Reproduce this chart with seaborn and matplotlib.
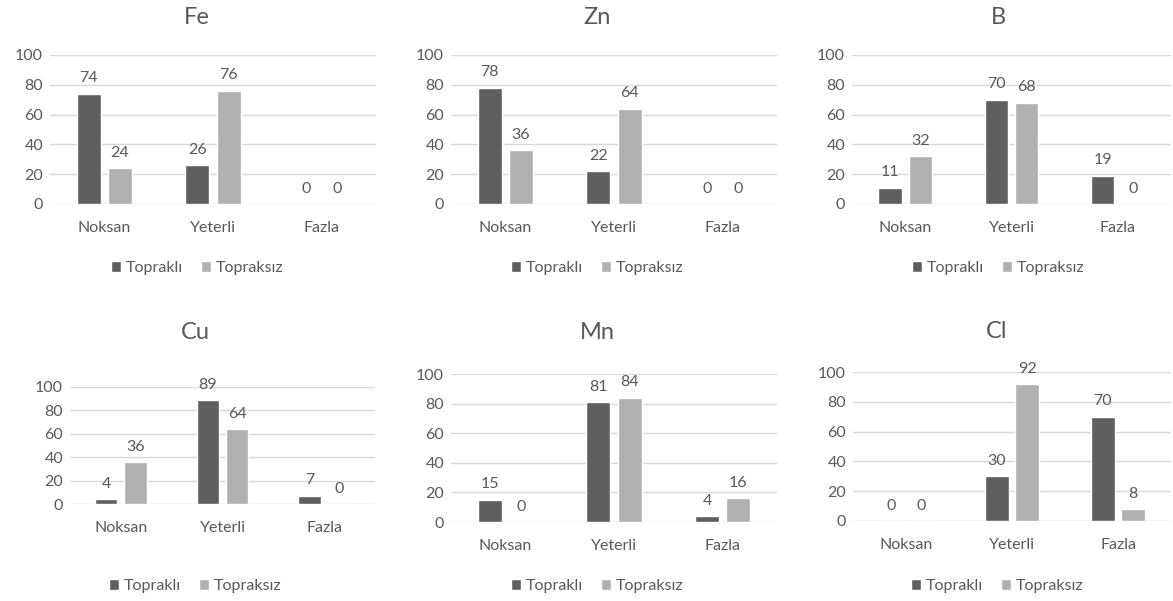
import matplotlib
matplotlib.use("Agg")
import matplotlib.pyplot as plt
import seaborn as sns
import pandas as pd

# categories and series
categories = ["Noksan", "Yeterli", "Fazla"]
series_names = ["Topraklı", "Topraksız"]

fe_toprakli = [74, 26, 0]
fe_topraksiz = [24, 76, 0]
zn_toprakli = [78, 22, 0]
zn_topraksiz = [36, 64, 0]
b_toprakli = [11, 70, 19]
b_topraksiz = [32, 68, 0]
cu_toprakli = [4, 89, 7]
cu_topraksiz = [36, 64, 0]
mn_toprakli = [15, 81, 4]
mn_topraksiz = [0, 84, 16]
cl_toprakli = [0, 30, 70]
cl_topraksiz = [0, 92, 8]

y_ticks = [0, 20, 40, 60, 80, 100]

W, H = 1173, 601
TEXT = "#595959"
GRID = "#d9d9d9"
FS = 11.5
palette = {"Topraklı": "#5f5f5f", "Topraksız": "#b0b0b0"}

sns.set_theme(style="white")
plt.rcParams["font.family"] = ["Lato", "DejaVu Sans"]

# (title, toprakli, topraksiz, axes px box [x0, x1, y100, y0], title px (x, y), legend y px)
panels = [
    ("Fe", fe_toprakli, fe_topraksiz, (50, 376, 55, 204), (197, 17), 268),
    ("Zn", zn_toprakli, zn_topraksiz, (451, 777, 55, 204), (597, 17), 268),
    ("B", b_toprakli, b_topraksiz, (852, 1171, 55, 204), (998, 17), 268),
    ("Cu", cu_toprakli, cu_topraksiz, (70, 375, 387, 504), (195, 333), 586),
    ("Mn", mn_toprakli, mn_topraksiz, (451, 777, 374, 522), (597, 333), 586),
    ("Cl", cl_toprakli, cl_topraksiz, (853, 1171, 372, 521), (997, 332), 586),
]

fig = plt.figure(figsize=(W / 100, H / 100), dpi=100)

for title, toprakli, topraksiz, box, tpos, leg_y in panels:
    x0, x1, y100, y0 = box
    ax = fig.add_axes([x0 / W, 1 - y0 / H, (x1 - x0) / W, (y0 - y100) / H])

    df = pd.DataFrame({
        "Kategori": categories * 2,
        "Seri": [series_names[0]] * 3 + [series_names[1]] * 3,
        "Deger": toprakli + topraksiz,
    })
    sns.barplot(data=df, x="Kategori", y="Deger", hue="Seri", palette=palette,
                order=categories, hue_order=series_names, width=0.572, gap=0.23,
                saturation=1, ax=ax)

    for cont in ax.containers:
        ax.bar_label(cont, fmt="%d", padding=6, fontsize=FS, color=TEXT)

    ax.set_ylim(0, 100)
    ax.set_yticks(y_ticks)
    ax.yaxis.grid(True, color=GRID, linewidth=1)
    ax.set_axisbelow(True)
    for s in ax.spines.values():
        s.set_visible(False)
    ax.set_xlabel("")
    ax.set_ylabel("")
    ax.tick_params(axis="y", length=0, pad=5, labelsize=FS, labelcolor=TEXT)
    ax.tick_params(axis="x", length=0, pad=12, labelsize=FS, labelcolor=TEXT)

    handles, labels = ax.get_legend_handles_labels()
    ax.get_legend().remove()
    ax.legend(handles, labels, loc="center", ncol=2, frameon=False,
              bbox_to_anchor=(tpos[0] / W, 1 - leg_y / H), bbox_transform=fig.transFigure,
              handlelength=0.65, handleheight=0.65, handletextpad=0.3, columnspacing=1.1,
              fontsize=FS, labelcolor=TEXT)

    fig.text(tpos[0] / W, 1 - tpos[1] / H, title, ha="center", va="center",
             fontsize=17, color=TEXT)

fig.savefig("out.png", dpi=100)
